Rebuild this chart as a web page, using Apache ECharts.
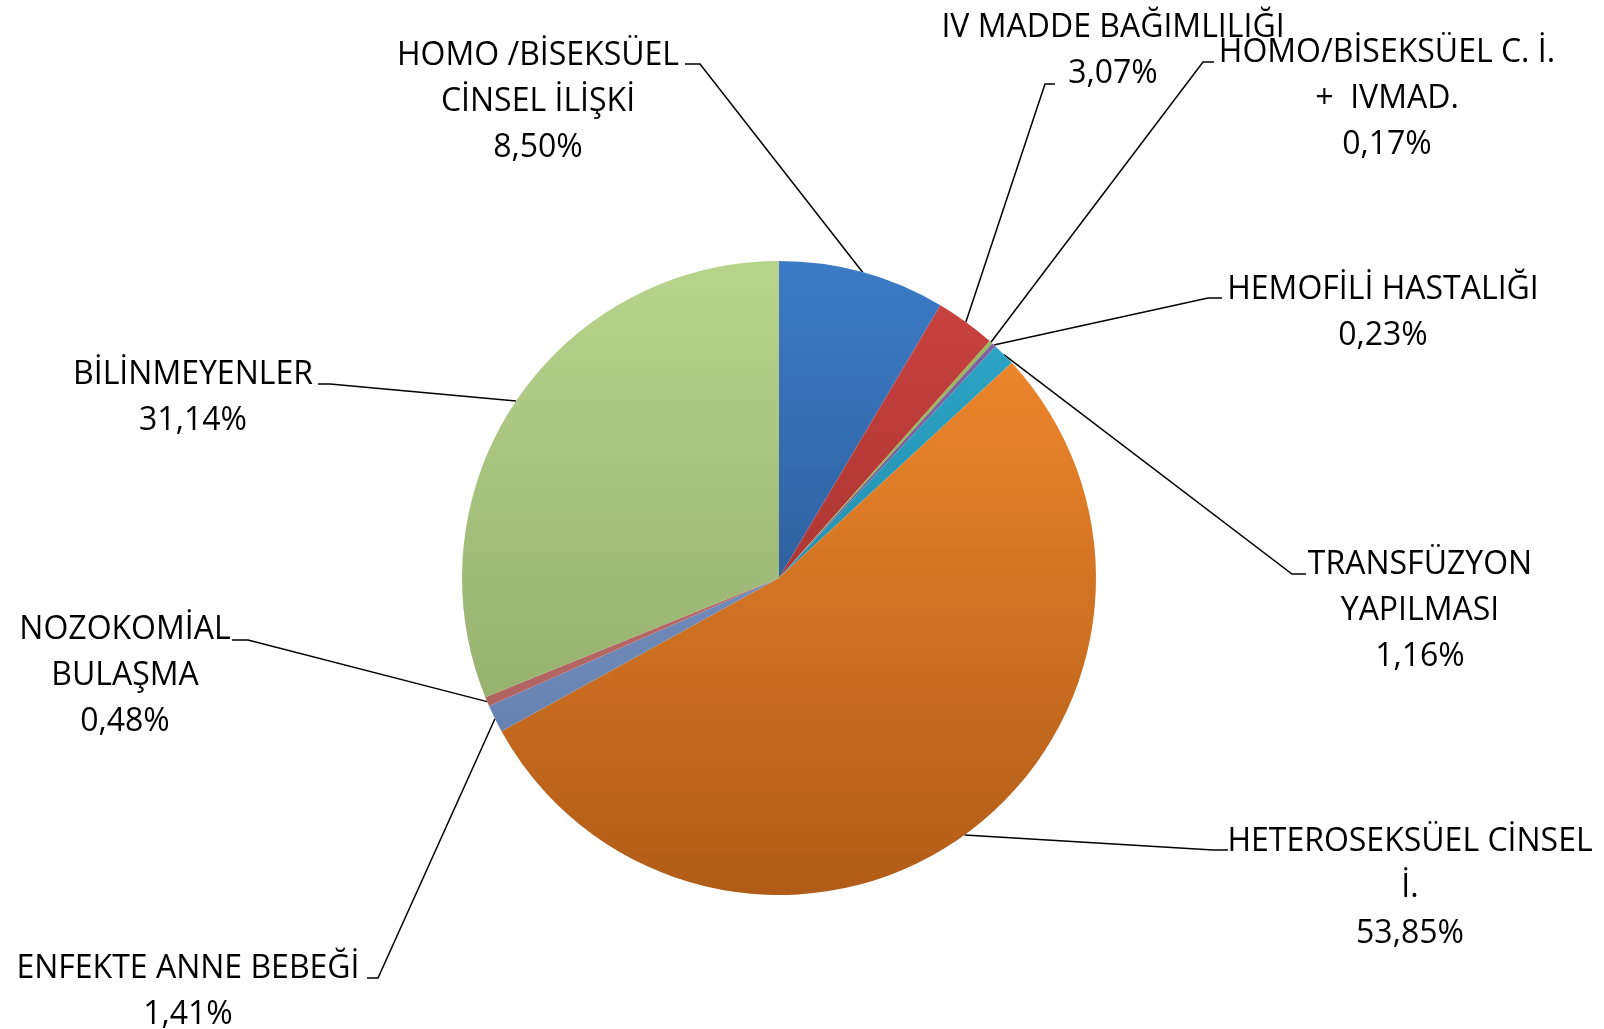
<!DOCTYPE html>
<html>
<head>
<meta charset="utf-8">
<script src="https://cdn.jsdelivr.net/npm/echarts@6/dist/echarts.min.js"></script>
<style>
  html, body { margin: 0; padding: 0; background: #fff; }
  #chart { width: 1604px; height: 1029px; }
</style>
</head>
<body>
<div id="chart"></div>
<script>
// ---- data ----
const categories = [
  'HOMO /BİSEKSÜEL\nCİNSEL İLİŞKİ',
  'IV MADDE BAĞIMLILIĞI',
  'HOMO/BİSEKSÜEL C. İ.\n+  IVMAD.',
  'HEMOFİLİ HASTALIĞI',
  'TRANSFÜZYON\nYAPILMASI',
  'HETEROSEKSÜEL CİNSEL\nİ.',
  'ENFEKTE ANNE BEBEĞİ',
  'NOZOKOMİAL\nBULAŞMA',
  'BİLİNMEYENLER'
];
const values = [8.50, 3.07, 0.17, 0.23, 1.16, 53.85, 1.41, 0.48, 31.14];

// ---- styling / layout (not data) ----
const sliceColors = [
  ['#3d7bc6', '#22487c'],
  ['#cc4340', '#8c2a28'],
  ['#9fc05a', '#7e9a45'],
  ['#8466a8', '#5f4a80'],
  ['#2fa9cb', '#1d7a94'],
  ['#f78d30', '#b05c18'],
  ['#86a0cc', '#5c78a8'],
  ['#c87a78', '#a85a58'],
  ['#b8d48c', '#88a162']
];
const PIE_TOP = 261, PIE_BOTTOM = 895;

// label layout: [centerX, topY, lineEndX, lineY, bendX]
const labelPos = [
  [538, 33, 685, 64, 700],
  [1113, 5, 1055, 84, 1045],
  [1387, 30, 1214, 62, 1203],
  [1383, 267, 1222, 298, 1208],
  [1420, 542, 1306, 574, 1292],
  [1410, 819, 1228, 850, 1213],
  [188, 946, 367, 978, 378],
  [125, 607, 232, 640, 248],
  [193, 352, 318, 384, 330]
];

function fmt(v) { return v.toFixed(2).replace('.', ',') + '%'; }

const chart = echarts.init(document.getElementById('chart'));
chart.setOption({
  animation: false,
  backgroundColor: '#ffffff',
  series: [{
    type: 'pie',
    center: [779, 578],
    radius: 317,
    startAngle: 90,
    clockwise: true,
    avoidLabelOverlap: false,
    data: categories.map((name, i) => ({
      name: name,
      value: values[i],
      itemStyle: {
        color: {
          type: 'linear', global: true,
          x: 0, y: PIE_TOP, x2: 0, y2: PIE_BOTTOM,
          colorStops: [
            { offset: 0, color: sliceColors[i][0] },
            { offset: 1, color: sliceColors[i][1] }
          ]
        }
      }
    })),
    label: {
      show: true,
      position: 'outside',
      color: '#000',
      fontFamily: 'Open Sans',
      fontSize: 32,
      lineHeight: 46,
      align: 'center',
      formatter: p => p.name + '\n' + fmt(p.value)
    },
    labelLine: {
      show: true,
      length: 20,
      length2: 20,
      smooth: false,
      lineStyle: { color: '#000', width: 1.5 }
    },
    labelLayout: function (params) {
      const lp = labelPos[params.dataIndex];
      const start = params.labelLinePoints ? params.labelLinePoints[0] : [779, 578];
      return {
        x: lp[0],
        y: lp[1],
        align: 'center',
        verticalAlign: 'top',
        labelLinePoints: [start, [lp[4], lp[3]], [lp[2], lp[3]]]
      };
    },
    emphasis: { disabled: true }
  }]
});
</script>
</body>
</html>
